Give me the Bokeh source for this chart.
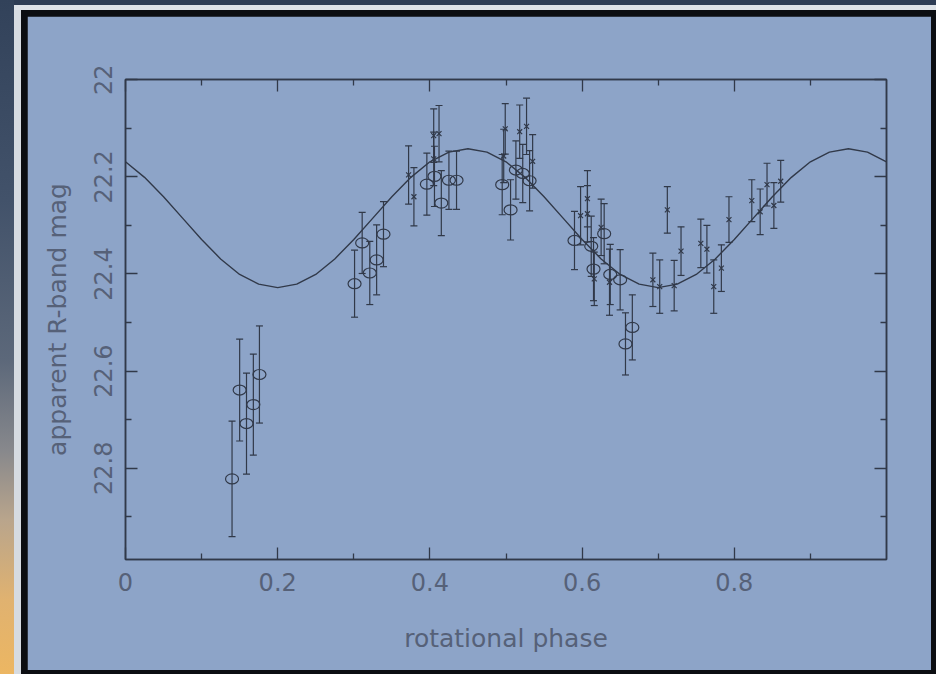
from bokeh.plotting import figure
from bokeh.layouts import column
from bokeh.models import Range1d, LinearAxis, FixedTicker, CustomJSTickFormatter
from bokeh.embed import file_html
from bokeh.resources import INLINE

# ---------------- data ----------------
circ_phase = [0.140, 0.150, 0.159, 0.168, 0.176,
              0.301, 0.311, 0.321, 0.330, 0.339,
              0.396, 0.406, 0.415, 0.425, 0.435,
              0.495, 0.506, 0.513, 0.522, 0.531,
              0.590, 0.612, 0.615, 0.629, 0.637, 0.650, 0.657, 0.666]
circ_mag = [22.822, 22.639, 22.708, 22.669, 22.607,
            22.420, 22.336, 22.398, 22.371, 22.318,
            22.215, 22.199, 22.254, 22.207, 22.207,
            22.216, 22.268, 22.186, 22.193, 22.208,
            22.331, 22.343, 22.390, 22.317, 22.401, 22.412, 22.544, 22.510]
circ_err = [0.119, 0.105, 0.104, 0.104, 0.100,
            0.069, 0.063, 0.065, 0.072, 0.067,
            0.064, 0.062, 0.067, 0.060, 0.060,
            0.062, 0.062, 0.060, 0.060, 0.062,
            0.060, 0.062, 0.065, 0.062, 0.062, 0.062, 0.064, 0.067]

cross_phase = [0.372, 0.379, 0.405, 0.412, 0.405,
               0.497, 0.499, 0.518, 0.527, 0.535,
               0.598, 0.607, 0.607, 0.616, 0.625, 0.636,
               0.693, 0.702, 0.712, 0.721, 0.730,
               0.756, 0.764, 0.773, 0.783, 0.793,
               0.823, 0.834, 0.843, 0.852, 0.861]
cross_mag = [22.196, 22.241, 22.115, 22.111, 22.163,
             22.157, 22.101, 22.107, 22.096, 22.168,
             22.280, 22.245, 22.276, 22.410, 22.304, 22.417,
             22.412, 22.426, 22.268, 22.424, 22.353,
             22.337, 22.349, 22.426, 22.388, 22.288,
             22.249, 22.272, 22.216, 22.259, 22.209]
cross_err = [0.060, 0.060, 0.055, 0.058, 0.055,
             0.055, 0.052, 0.055, 0.058, 0.055,
             0.060, 0.058, 0.058, 0.055, 0.058, 0.068,
             0.055, 0.055, 0.048, 0.052, 0.050,
             0.050, 0.049, 0.055, 0.048, 0.047,
             0.043, 0.047, 0.044, 0.047, 0.043]

model_phase = [0.000, 0.025, 0.050, 0.075, 0.100, 0.125, 0.150, 0.175, 0.200,
               0.225, 0.250, 0.275, 0.300, 0.325, 0.350, 0.375, 0.400, 0.425,
               0.450, 0.475, 0.500, 0.525, 0.550, 0.575, 0.600, 0.625, 0.650,
               0.675, 0.700, 0.725, 0.750, 0.775, 0.800, 0.825, 0.850, 0.875,
               0.900, 0.925, 0.950, 0.975, 1.000]
model_mag = [22.169, 22.201, 22.241, 22.285, 22.329, 22.369, 22.401, 22.421, 22.428,
             22.421, 22.401, 22.369, 22.329, 22.285, 22.241, 22.201, 22.169, 22.149,
             22.142, 22.149, 22.169, 22.201, 22.241, 22.285, 22.329, 22.369, 22.401,
             22.421, 22.428, 22.421, 22.401, 22.369, 22.329, 22.285, 22.241, 22.201,
             22.169, 22.149, 22.142, 22.149, 22.169]

x_major = [0, 0.2, 0.4, 0.6, 0.8]
x_minor = [0.1, 0.3, 0.5, 0.7, 0.9]
y_major = [22.0, 22.2, 22.4, 22.6, 22.8]
y_minor = [22.1, 22.3, 22.5, 22.7, 22.9]

x_label = "rotational phase"
y_label = "apparent R-band mag"

# ---------------- styles ----------------
PANEL = "#8da4c8"
INK = "#313949"
TEXT = "#566178"
FONT = "DejaVu Sans"

# panel occupies canvas x 27..931, y 16..670
PW, PH = 904, 654

p = figure(width=PW, height=PH,
           x_range=Range1d(0, 1.0), y_range=Range1d(22.988, 21.9995),
           output_backend="svg", toolbar_location=None,
           min_border_left=98, min_border_right=45,
           min_border_top=63, min_border_bottom=111,
           x_axis_label=x_label, y_axis_label=y_label)
p.background_fill_color = PANEL
p.border_fill_color = PANEL
p.outline_line_color = INK
p.outline_line_width = 1.5
p.grid.visible = False

fmt = CustomJSTickFormatter(code="return Number(tick.toFixed(2)).toString();")
blank = CustomJSTickFormatter(code="return '';")


def style_axis(ax, major, minor, show):
    ax.ticker = FixedTicker(ticks=major, minor_ticks=minor)
    ax.axis_line_color = INK
    ax.axis_line_width = 1.5
    ax.major_tick_line_color = INK
    ax.minor_tick_line_color = INK
    ax.major_tick_line_width = 1.3
    ax.minor_tick_line_width = 1.3
    ax.major_tick_in = 12
    ax.major_tick_out = 0
    ax.minor_tick_in = 6
    ax.minor_tick_out = 0
    if show:
        ax.formatter = fmt
        ax.major_label_text_font = FONT
        ax.major_label_text_font_size = "24px"
        ax.major_label_text_color = TEXT
        ax.major_label_standoff = 13
        ax.axis_label_text_font = FONT
        ax.axis_label_text_font_size = "25px"
        ax.axis_label_text_font_style = "normal"
        ax.axis_label_text_color = TEXT
    else:
        ax.formatter = blank
        ax.major_label_text_font_size = "1px"


style_axis(p.xaxis[0], x_major, x_minor, True)
p.xaxis[0].axis_label_standoff = 30
style_axis(p.yaxis[0], y_major, y_minor, True)
p.yaxis[0].major_label_orientation = "vertical"
p.yaxis[0].axis_label_standoff = 20

top_ax = LinearAxis()
style_axis(top_ax, x_major, x_minor, False)
p.add_layout(top_ax, "above")
right_ax = LinearAxis()
style_axis(right_ax, y_major, y_minor, False)
p.add_layout(right_ax, "right")

# model curve
p.line(model_phase, model_mag, line_color=INK, line_width=1.4)

# error bars with caps
for ph, mg, er in ((circ_phase, circ_mag, circ_err), (cross_phase, cross_mag, cross_err)):
    lo = [m - e for m, e in zip(mg, er)]
    hi = [m + e for m, e in zip(mg, er)]
    p.segment(x0=ph, y0=lo, x1=ph, y1=hi, line_color=INK, line_width=1.2)
    p.scatter(x=ph + ph, y=lo + hi, marker="dash", size=7, line_color=INK, line_width=1.2)

p.ellipse(x=circ_phase, y=circ_mag, width=13, height=10,
          width_units="screen", height_units="screen",
          fill_color=None, line_color=INK, line_width=1.2)
p.scatter(x=cross_phase, y=cross_mag, marker="x", size=7,
          line_color=INK, line_width=1.2)

# ---------------- outer frame (slide-like border) via CSS ----------------
background = ", ".join([
    # left gradient strip
    "linear-gradient(to bottom, #32425a 0px, #42526a 200px, #5c687a 360px, "
    "#87888c 450px, #b9a58c 520px, #e0b270 600px, #ecb662 674px) 0 0 / 14px 100% no-repeat",
    # dark top strip
    "linear-gradient(#2e3d55, #2e3d55) 14px 0 / 100% 5px no-repeat",
    # light strips
    "linear-gradient(#dde2e8, #dde2e8) 14px 5px / 100% 5px no-repeat",
    "linear-gradient(#d6dbe1, #d6dbe1) 14px 5px / 7px 100% no-repeat",
    # black base
    "#0c0e12",
])

root = column(p, styles={
    "padding": "16px 5px 4px 27px",
    "background": background,
})

open("out.html", "w").write(file_html(root, INLINE))
